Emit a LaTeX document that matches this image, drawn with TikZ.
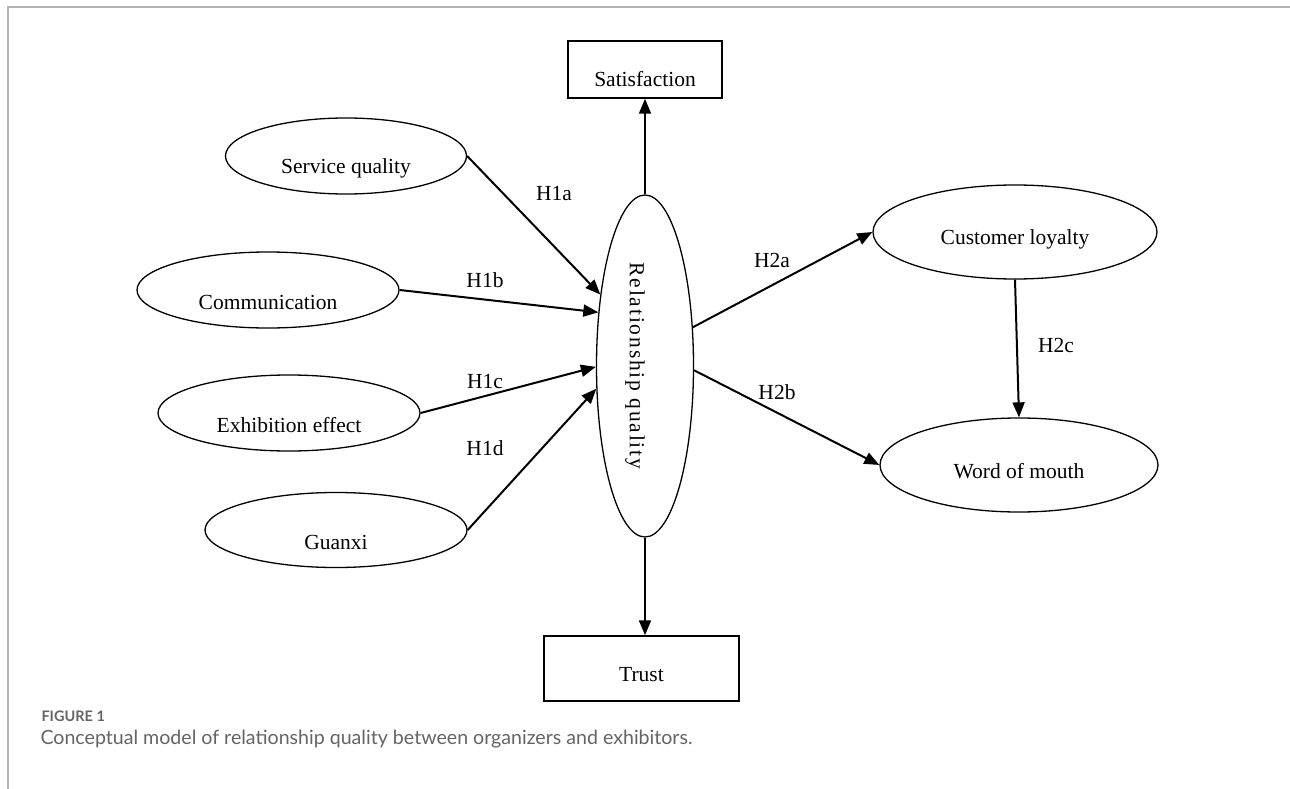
\documentclass[tikz,border=0pt]{standalone}
\usepackage{fontspec}
\setmainfont{Liberation Serif}
\newfontfamily\capfont{Lato}
\usetikzlibrary{arrows.meta,positioning,shapes.geometric}
\definecolor{framegray}{RGB}{178,178,178}
\definecolor{capgray}{RGB}{100,100,100}
\newcommand{\low}[2][12pt]{\raisebox{-#1}[\height][\depth]{#2}}
\tikzset{>={Triangle[length=15pt,width=12pt]},
         every picture/.style={x=1pt,y=-1pt},
         txt/.style={font=\fontsize{21.5}{24}\selectfont},
         var/.style={txt,draw,ellipse,line width=1.3pt,inner sep=0pt,
                     minimum width=262pt,minimum height=76pt},
         box/.style={txt,draw,rectangle,line width=1.5pt,inner sep=0pt},
         link/.style={->,line width=2pt}}
\begin{document}
\begin{tikzpicture}
  \useasboundingbox (0,0) rectangle (1290,789);
  \draw[framegray,line width=2pt] (8,789) -- (8,7) -- (1290,7);

  \node[var,minimum width=342pt,minimum height=97pt,rotate=-90,
        font=\fontsize{21.5}{24}\selectfont\addfontfeature{LetterSpace=8.5}]
        (rq) at (645,366) {\low[10pt]{Relationship quality}};
  \node[var,minimum width=241pt] (sq) at (346,156) {\low{Service quality}};
  \node[var] (comm) at (268,290) {\low{Communication}};
  \node[var] (exh) at (289,413) {\low{Exhibition effect}};
  \node[var,minimum height=75pt] (gx) at (336,530) {\low{Guanxi}};
  \node[var,minimum width=284pt,minimum height=94pt] (cl) at (1015,232) {\low[7pt]{Customer loyalty}};
  \node[var,minimum width=278pt,minimum height=94pt] (wom) at (1019,465) {\low[6pt]{Word of mouth}};
  \node[box,minimum width=154pt,minimum height=57pt] (sat) at (645,69.5) {\low[10pt]{Satisfaction}};
  \node[box,minimum width=195pt,minimum height=65pt] (trust) at (641.5,668.5) {\low[6pt]{Trust}};

  \draw[link] (sq.east) -- (rq.212);
  \draw[link] (comm.east) -- (rq.221);
  \draw[link] (exh.east) -- (rq.271);
  \draw[link] (gx.east) -- (rq.295);
  \draw[link] (rq.129) -- (cl.west);
  \draw[link] (rq.85) -- (wom.west);
  \draw[link] (cl.south) -- (wom.north);
  \draw[link] (rq.west) -- (rq.west |- sat.south);
  \draw[link] (rq.east) -- (rq.east |- trust.north);

  \node[txt] (h1a) at (554,194) {H1a};
  \node[txt] (h1b) at (485,280) {H1b};
  \node[txt] (h1c) at (485,382) {H1c};
  \node[txt] (h1d) at (485,448) {H1d};
  \node[txt] (h2a) at (772,260) {H2a};
  \node[txt] (h2b) at (777,392) {H2b};
  \node[txt] (h2c) at (1056,345) {H2c};

  \node[anchor=west,text=capgray,font=\capfont\bfseries\fontsize{14.5}{16}\selectfont]
        (fig) at (38,716) {FIGURE 1};
  \node[anchor=west,text=capgray,font=\capfont\fontsize{19.6}{22}\selectfont]
        (cap) at (37,739) {Conceptual model of relationship quality between organizers and exhibitors.};
\end{tikzpicture}
\end{document}
